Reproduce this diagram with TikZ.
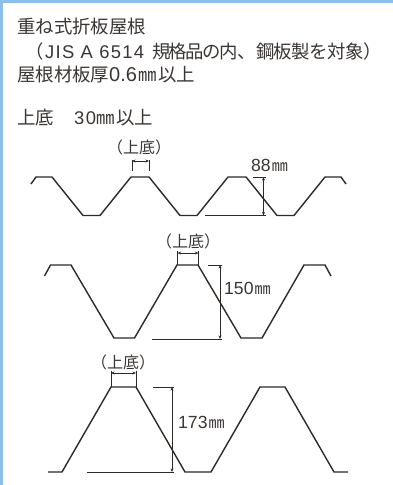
\documentclass[tikz,border=0pt]{standalone}
\usepackage{fontspec}
\usetikzlibrary{arrows.meta}
\setmainfont{Noto Sans CJK JP}
\newfontfamily\latinf{Liberation Sans}
\definecolor{frame}{HTML}{8CBDEB}
\definecolor{ink}{HTML}{2E2A28}
\definecolor{txt}{HTML}{3A3634}
\newcommand{\dimnum}[1]{{\latinf\fontsize{17.6}{17.6}\selectfont #1}\hspace{1pt}}
\tikzset{
  profile/.style={draw=ink,line width=1.4pt,line join=miter},
  dimline/.style={draw=ink,line width=0.6pt},
  dimarrow/.style={draw=ink,line width=0.6pt,{Stealth[length=3.6pt,width=3pt]}-{Stealth[length=3.6pt,width=3pt]}},
  body/.style={text=txt,font=\fontsize{18.4}{18.4}\selectfont,anchor=base west,inner sep=0pt},
  lab/.style={text=txt,font=\fontsize{16}{16}\selectfont,anchor=center,inner sep=0pt},
  dimtext/.style={text=txt,font=\fontsize{16}{16}\selectfont,anchor=base west,inner sep=0pt},
}
\begin{document}
\begin{tikzpicture}[x=1pt,y=-1pt]
\useasboundingbox (0,0) rectangle (393,485);
\fill[white] (0,0) rectangle (393,485);
\fill[frame] (0,0) rectangle (393,3);
\fill[frame] (0,0) rectangle (3,485);
% heading text
\node[body] (t1) at (17,33) {重ね式折板屋根};
\node[body] (t2) at (25,58) {（\hspace{1.6pt}{\latinf\addfontfeature{LetterSpace=7}JIS A 6514}\hspace{8pt}{\addfontfeature{LetterSpace=-9}規格品の内}、{\addfontfeature{LetterSpace=-3}鋼板製を対象}）};
\node[body] (t3) at (17,81) {屋根材板厚{\latinf\fontsize{20}{20}\selectfont 0.6}\hspace{1pt}㎜\hspace{2pt}以上};
\node[body] (t4) at (17,124) {上底\hspace{20pt}{\latinf\addfontfeature{LetterSpace=9}30}㎜\hspace{2pt}以上};
% profile 1
\draw[profile] (31,184)--(36,177)--(52,177)--(83,215.5)--(100,215.5)--(131,177)--(149,177)--(180,215.5)--(197,215.5)--(228,177)--(246,177)--(277,215.5)--(294,215.5)--(325,177)--(341,177)--(346,184);
\node[lab] (l1) at (139,147) {（上底）};
\draw[dimline] (132,160)--(132,171) (149,160)--(149,171);
\draw[dimarrow] (132,161)--(149,161);
\draw[dimline] (253,177)--(266,177) (205,215.5)--(266,215.5);
\draw[dimarrow] (263.5,177)--(263.5,215.5);
\node[dimtext] (d1) at (251,171) {\dimnum{88}㎜};
% profile 2
\draw[profile] (44.5,276)--(50.5,265)--(71,265)--(114,338)--(134.5,338)--(177,265)--(198,265)--(241,338)--(262,338)--(304,265)--(325,265)--(331,276);
\node[lab] (l2) at (188,241) {（上底）};
\draw[dimline] (177.5,251)--(177.5,265) (198.5,251)--(198.5,265);
\draw[dimarrow] (177.5,253)--(198.5,253);
\draw[dimline] (208,265)--(222,265) (152,339)--(222,339);
\draw[dimarrow] (220,265)--(220,339);
\node[dimtext] (d2) at (224,294) {\dimnum{150}㎜};
% profile 3
\draw[profile] (48,472)--(62,472)--(111,387)--(136,387)--(185,472)--(211,472)--(260,387)--(285,387)--(334,472)--(348,472);
\node[lab] (l3) at (123,362) {（上底）};
\draw[dimline] (111,371)--(111,387) (136,371)--(136,387);
\draw[dimarrow] (111,373)--(136,373);
\draw[dimline] (153,387)--(174,387) (87,472)--(174,472);
\draw[dimarrow] (172,387)--(172,472);
\node[dimtext] (d3) at (178,428) {\dimnum{173}㎜};
\end{tikzpicture}
\end{document}
